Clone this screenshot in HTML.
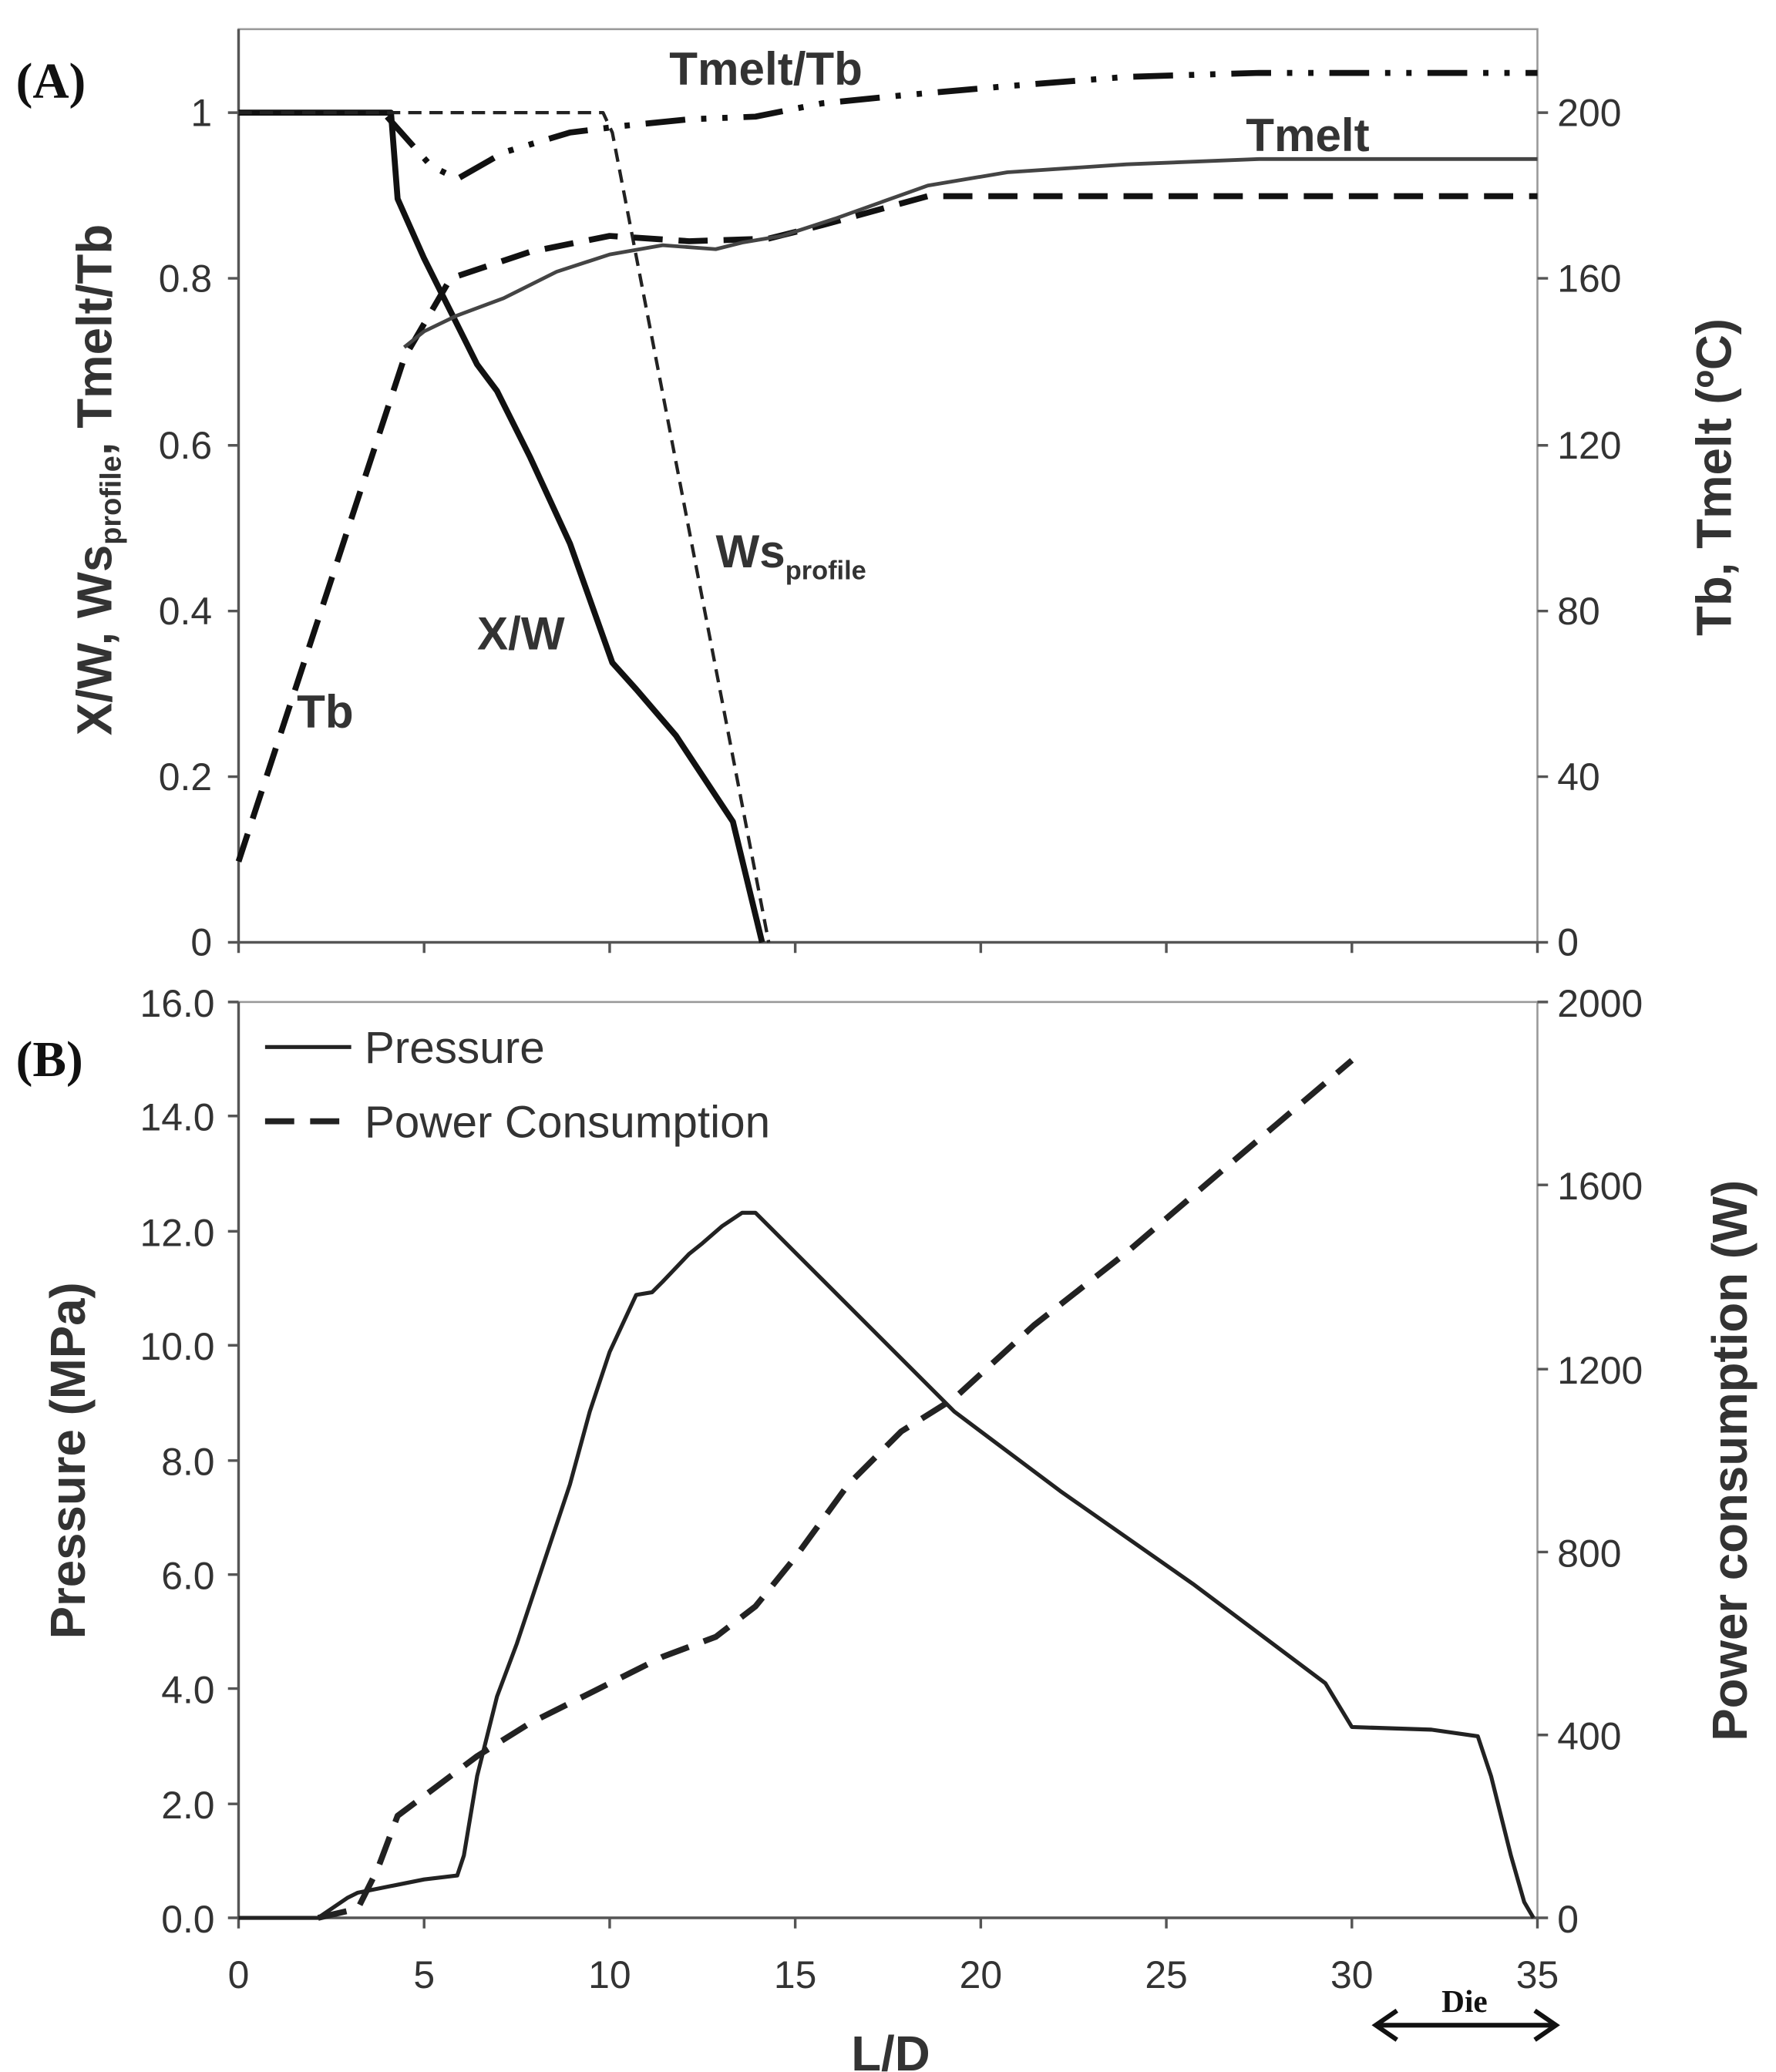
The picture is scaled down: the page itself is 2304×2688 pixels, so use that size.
<!DOCTYPE html>
<html><head><meta charset="utf-8"><style>html,body{margin:0;padding:0;background:#fff}svg{display:block}</style></head>
<body>
<svg width="2304" height="2688" viewBox="0 0 1340 1563.3" preserveAspectRatio="none" xmlns="http://www.w3.org/2000/svg" font-family="Liberation Sans, sans-serif">
<rect width="1340" height="1564" fill="#fff"/>
<g stroke="#999" stroke-width="1.5" fill="none">
<rect x="180" y="22" width="980" height="689"/>
<rect x="180" y="756" width="980" height="691"/>
</g>
<g stroke="#555" stroke-width="2">
<line x1="180" y1="22" x2="180" y2="711"/>
<line x1="180" y1="711" x2="1160" y2="711"/>
<line x1="180" y1="756" x2="180" y2="1447"/>
<line x1="180" y1="1447" x2="1160" y2="1447"/>
</g>
<g stroke="#555" stroke-width="2">
<path d="M172 85H180M172 210H180M172 336H180M172 461H180M172 586H180M172 711H180"/>
<path d="M1160 85H1168M1160 210H1168M1160 336H1168M1160 461H1168M1160 586H1168M1160 711H1168"/>
<path d="M180 711V719M320 711V719M460 711V719M600 711V719M740 711V719M880 711V719M1020 711V719M1160 711V719"/>
<path d="M172 756H180M172 842H180M172 929H180M172 1015H180M172 1102H180M172 1188H180M172 1274H180M172 1361H180M172 1447H180"/>
<path d="M1160 756H1168M1160 894H1168M1160 1033H1168M1160 1171H1168M1160 1309H1168M1160 1447H1168"/>
<path d="M180 1447V1455M320 1447V1455M460 1447V1455M600 1447V1455M740 1447V1455M880 1447V1455M1020 1447V1455M1160 1447V1455"/>
</g>
<g fill="#333" font-size="29">
<g text-anchor="end">
<text x="160" y="95">1</text><text x="160" y="220">0.8</text><text x="160" y="346">0.6</text><text x="160" y="471">0.4</text><text x="160" y="596">0.2</text><text x="160" y="721">0</text>
<text x="162" y="767">16.0</text><text x="162" y="853">14.0</text><text x="162" y="940">12.0</text><text x="162" y="1026">10.0</text><text x="162" y="1113">8.0</text><text x="162" y="1199">6.0</text><text x="162" y="1285">4.0</text><text x="162" y="1372">2.0</text><text x="162" y="1458">0.0</text>
</g>
<g>
<text x="1175" y="95">200</text><text x="1175" y="220">160</text><text x="1175" y="346">120</text><text x="1175" y="471">80</text><text x="1175" y="596">40</text><text x="1175" y="721">0</text>
<text x="1175" y="767">2000</text><text x="1175" y="905">1600</text><text x="1175" y="1044">1200</text><text x="1175" y="1182">800</text><text x="1175" y="1320">400</text><text x="1175" y="1458">0</text>
</g>
<g text-anchor="middle">
<text x="180" y="1500">0</text><text x="320" y="1500">5</text><text x="460" y="1500">10</text><text x="600" y="1500">15</text><text x="740" y="1500">20</text><text x="880" y="1500">25</text><text x="1020" y="1500">30</text><text x="1160" y="1500">35</text>
</g>
</g>
<g font-weight="bold" fill="#333" font-size="37" text-anchor="middle">
<text transform="translate(84,362) rotate(-90)">X/W, Ws<tspan font-size="22" dy="7">profile</tspan><tspan dy="-7">, Tmelt/Tb</tspan></text>
<text transform="translate(1306,360) rotate(-90)">Tb, Tmelt (ºC)</text>
<text transform="translate(64,1102) rotate(-90)">Pressure (MPa)</text>
<text transform="translate(1318,1102) rotate(-90)">Power consumption (W)</text>
<text x="672" y="1562">L/D</text>
</g>
<g font-family="Liberation Serif, serif" font-weight="bold" font-size="38" fill="#111">
<text x="12" y="74">(A)</text><text x="12" y="812">(B)</text>
</g>
<g fill="none" stroke="#111" stroke-linejoin="round">
<polyline stroke-width="4.5" points="180,85 295,85 300,150 320,195 345,245 360,275 375,295 400,345 430,410 462,500 480,520 510,555 553,620 575,711"/>
<polyline stroke-width="2.5" stroke="#222" stroke-dasharray="10,6" points="180,85 455,85 462,100 580,711"/>
<polyline stroke-width="4.5" stroke-dasharray="22,12" points="180,650 305,270 340,210 400,190 460,178 520,182 580,180 620,170 700,148 740,148 1160,148"/>
<polyline stroke-width="2.8" stroke="#444" points="305,262 320,250 345,238 380,225 420,205 460,192 500,185 540,188 560,183 590,178 630,165 700,140 760,130 850,124 950,120 1160,120"/>
<polyline stroke-width="4.5" stroke-dasharray="30,12,4,12,4,12" points="292,88 325,125 345,135 380,115 430,100 470,95 520,90 570,88 620,78 680,72 760,65 850,58 950,55 1160,55"/>
</g>
<g font-weight="bold" fill="#333" font-size="35">
<text x="505" y="64">Tmelt/Tb</text>
<text x="940" y="114">Tmelt</text>
<text x="540" y="428">Ws<tspan font-size="20" dy="9">profile</tspan></text>
<text x="360" y="490">X/W</text>
<text x="224" y="549">Tb</text>
</g>
<g fill="none" stroke="#222" stroke-linejoin="round">
<polyline stroke-width="3" points="180,1447 240,1447 262,1432 270,1428 300,1422 320,1418 345,1415 350,1400 360,1340 375,1280 390,1240 410,1180 430,1120 445,1065 460,1020 480,977 492,975 500,967 520,946 530,938 545,925 560,915 570,915 585,930 620,965 700,1045 720,1065 800,1125 900,1195 1000,1270 1020,1303 1080,1305 1115,1310 1125,1340 1140,1400 1150,1435 1157,1447"/>
<polyline stroke-width="4.5" stroke-dasharray="22,12" points="240,1447 270,1440 285,1410 300,1370 320,1355 360,1325 400,1300 450,1275 500,1250 540,1235 570,1212 600,1175 640,1120 680,1080 720,1055 780,1000 850,945 920,885 1020,800"/>
<line x1="200" y1="790" x2="265" y2="790" stroke-width="3"/>
<line x1="200" y1="846" x2="265" y2="846" stroke-width="4.5" stroke-dasharray="22,12"/>
</g>
<g fill="#333" font-size="34">
<text x="275" y="802">Pressure</text>
<text x="275" y="858">Power Consumption</text>
</g>
<g stroke="#111" stroke-width="3.5" fill="none">
<line x1="1040" y1="1528" x2="1172" y2="1528"/>
<path d="M1054 1517 L1038 1528 L1054 1539 M1158 1517 L1174 1528 L1158 1539"/>
</g>
<text x="1105" y="1518" font-family="Liberation Serif, serif" font-weight="bold" font-size="24" fill="#111" text-anchor="middle">Die</text>
</svg>
</body></html>
